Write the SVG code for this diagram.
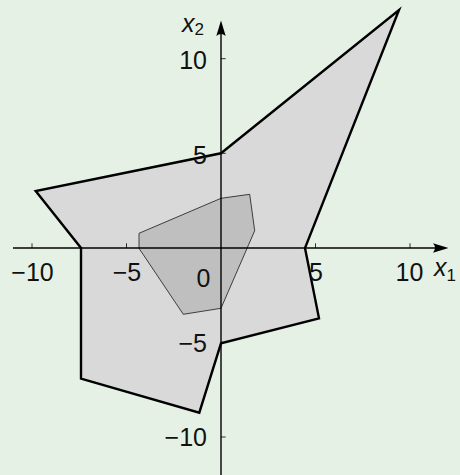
<svg xmlns="http://www.w3.org/2000/svg" width="460" height="475" viewBox="0 0 460 475">
<style>
.lbl{font-family:"Liberation Sans","DejaVu Sans",sans-serif;font-size:25px;fill:#111}
.ax{stroke:#000;stroke-width:1.4;fill:none}
.tk{stroke:#000;stroke-width:0.8}
</style>
<rect width="460" height="475" fill="#e6f1e6"/>
<g id="outer-region">
<path d="M221,153.3 L399,10 L305,248 L319,318.3 L221,343.3 L199.3,412.7 L81,378.7 L81,248 L35.7,191 Z" fill="#d9d9d9" stroke="#000" stroke-width="2.4" stroke-linejoin="miter"/>
</g>
<g id="inner-region">
<path d="M221,198.3 L249.7,194.3 L254.7,230.7 L221,308.3 L183.3,314.3 L139,248.3 L139,233.3 Z" fill="#bfbfbf" stroke="#000" stroke-width="0.7"/>
</g>
<g id="axes">
<line class="ax" x1="13" y1="248" x2="440" y2="248"/>
<path d="M448.5,248 L433,243.3 Q437,248 433,252.7 Z" fill="#000"/>
<line class="ax" x1="221" y1="475" x2="221" y2="28"/>
<path d="M221,20.5 L216.3,36 Q221,32 225.7,36 Z" fill="#000"/>
<line class="tk" x1="32" y1="248" x2="32" y2="243.3"/>
<line class="tk" x1="126.5" y1="248" x2="126.5" y2="243.3"/>
<line class="tk" x1="315.5" y1="248" x2="315.5" y2="243.3"/>
<line class="tk" x1="410" y1="248" x2="410" y2="243.3"/>
<line class="tk" x1="221" y1="58.7" x2="225.7" y2="58.7"/>
<line class="tk" x1="221" y1="153.3" x2="225.7" y2="153.3"/>
<line class="tk" x1="221" y1="342.3" x2="225.7" y2="342.3"/>
<line class="tk" x1="221" y1="437" x2="225.7" y2="437"/>
</g>
<g id="labels">
<text class="lbl" x="32.5" y="281" text-anchor="middle">−10</text>
<text class="lbl" x="127" y="281" text-anchor="middle">−5</text>
<text class="lbl" x="316" y="281" text-anchor="middle">5</text>
<text class="lbl" x="409.5" y="281" text-anchor="middle">10</text>
<text class="lbl" x="203.5" y="286.5" text-anchor="middle">0</text>
<text class="lbl" x="207" y="69" text-anchor="end">10</text>
<text class="lbl" x="207" y="164" text-anchor="end">5</text>
<text class="lbl" x="207" y="352" text-anchor="end">−5</text>
<text class="lbl" x="207" y="446" text-anchor="end">−10</text>
<text class="lbl" x="434" y="276" font-style="italic">x<tspan font-size="17" font-style="normal" dy="4.5">1</tspan></text>
<text class="lbl" x="182" y="31.5" font-style="italic">x<tspan font-size="17" font-style="normal" dy="3.5">2</tspan></text>
</g>
</svg>
